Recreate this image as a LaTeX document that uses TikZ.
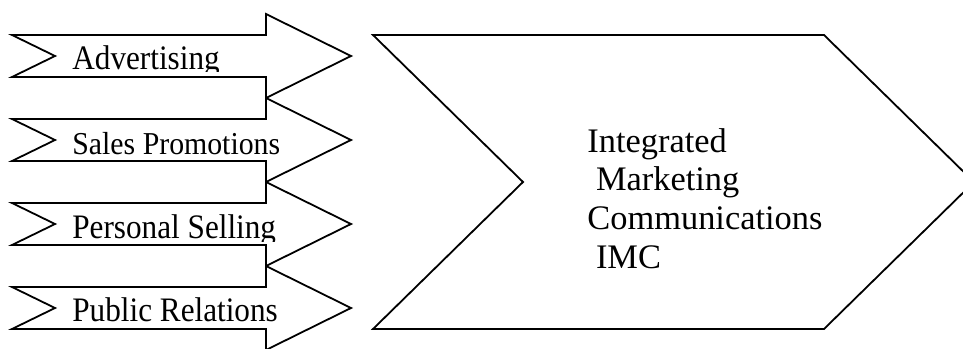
\documentclass[tikz,border=0pt]{standalone}
\usepackage{fontspec}
\setmainfont{Liberation Serif}
\usepackage{tikz}

\begin{document}
\begin{tikzpicture}[x=0.5pt, y=-0.5pt,
  outline/.style={draw=black, line width=0.9pt, line join=miter, fill=white},
  tag/.style={anchor=base west, inner sep=0pt, font=\fontsize{15.6}{18}\selectfont},
  bigtext/.style={anchor=north west, inner sep=0pt, align=left, font=\fontsize{17.2}{19.35}\selectfont}]

  % Page frame; the tip of the big chevron runs past the right edge
  \clip (0,0) rectangle (963,348);

  % Draw the four feeder arrows (notched tail, wide head), spaced 84 apart
  \draw[outline] (12,35) -- (266,35) -- (266,14) -- (351,56) -- (266,98) -- (266,77) -- (12,77) -- (55,56) -- cycle;
  \draw[outline] (12,119) -- (266,119) -- (266,98) -- (351,140) -- (266,182) -- (266,161) -- (12,161) -- (55,140) -- cycle;
  \draw[outline] (12,203) -- (266,203) -- (266,182) -- (351,224) -- (266,266) -- (266,245) -- (12,245) -- (55,224) -- cycle;
  \draw[outline] (12,287) -- (266,287) -- (266,266) -- (351,308) -- (266,350) -- (266,329) -- (12,329) -- (55,308) -- cycle;

  % Labels sit in text boxes that cut off the descenders
  \begin{scope}
    \clip (60,36) rectangle (310,71) (60,120) rectangle (310,160)
          (60,204) rectangle (310,241) (60,288) rectangle (310,327);
    \node[tag] (adv) at (72,69) {\scalebox{1}[1.1]{Advertising}};
    \node[tag, font=\fontsize{14.9}{18}\selectfont] (sales) at (72,154) {\scalebox{1}[1.07]{Sales Promotions}};
    \node[tag] (selling) at (72,238) {\scalebox{1}[1.1]{Personal Selling}};
    \node[tag] (pr) at (72,321) {\scalebox{1}[1.1]{Public Relations}};
  \end{scope}

  % Draw the big chevron
  \draw[outline] (373,35) -- (824,35) -- (974,182) -- (824,329) -- (373,329) -- (523,182) -- cycle;
  \node[bigtext] (imc) at (587,128) {Integrated\\\ Marketing\\Communications\\\ IMC};

\end{tikzpicture}
\end{document}
